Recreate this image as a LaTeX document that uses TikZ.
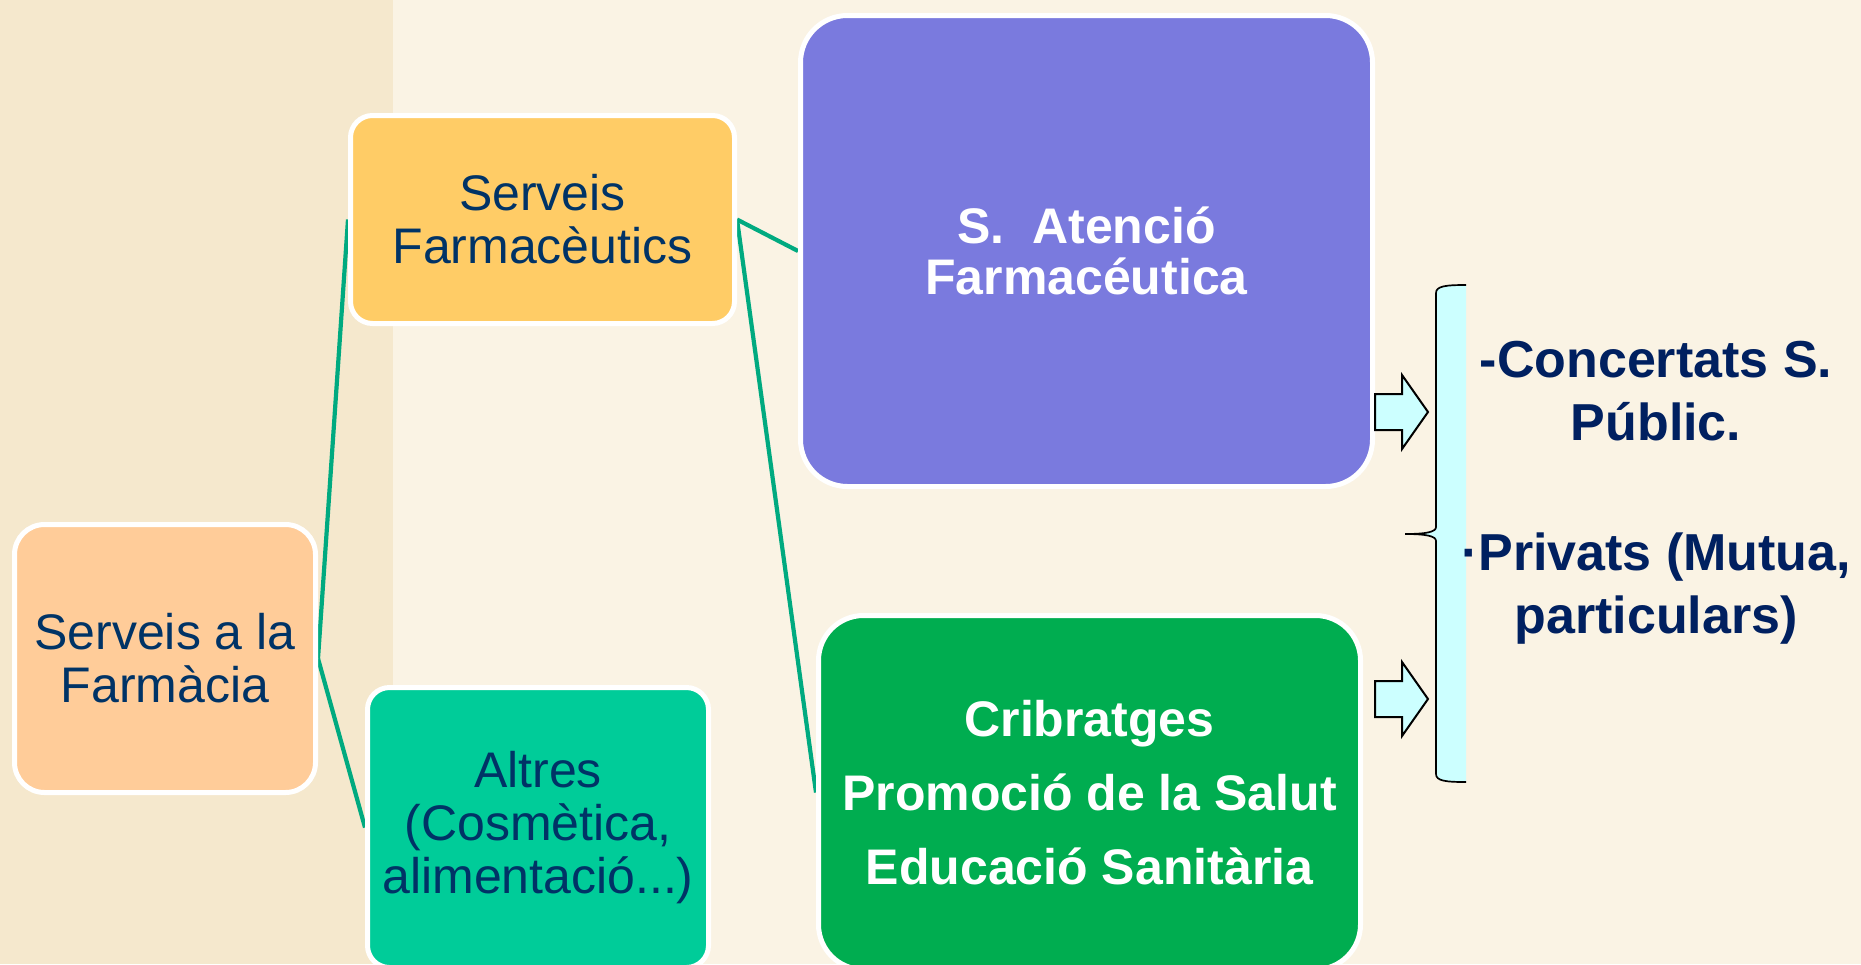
\documentclass[tikz,border=0pt]{standalone}
\usepackage{fontspec}
\setmainfont{Liberation Sans}
\usetikzlibrary{backgrounds}
\definecolor{bgleft}{RGB}{245,232,205}
\definecolor{bgright}{RGB}{250,243,228}
\definecolor{peach}{RGB}{255,204,153}
\definecolor{gold}{RGB}{255,204,102}
\definecolor{mint}{RGB}{0,204,153}
\definecolor{lilac}{RGB}{122,122,222}
\definecolor{leaf}{RGB}{0,173,80}
\definecolor{paleblue}{RGB}{204,255,255}
\definecolor{navy}{RGB}{0,51,102}
\definecolor{deepnavy}{RGB}{0,32,96}
\definecolor{teal}{RGB}{0,170,128}
\tikzset{
  box/.style={draw=white, line width=2.5pt, inner sep=0pt, align=center},
  plain/.style={font=\fontsize{25}{26.5}\selectfont, text=navy},
  boldw/.style={font=\bfseries\fontsize{25}{25.5}\selectfont, text=white},
  conn/.style={draw=teal, line width=2.1pt},
  blockarrow/.style={draw=black, line width=1pt, fill=paleblue, line join=miter},
  rtext/.style={font=\bfseries\fontsize{26}{31.5}\selectfont, text=deepnavy, align=center, inner sep=0pt}
}
\begin{document}
\begin{tikzpicture}[x=0.5pt,y=-0.5pt]
\useasboundingbox (0,0) rectangle (1861,964);
\clip (0,0) rectangle (1861,964);

% boxes
\node[box, plain, fill=peach, rounded corners=15pt, minimum width=150.5pt, minimum height=134pt] (root) at (165,658.5) {Serveis a la\\Farmàcia};
\node[box, plain, fill=gold, rounded corners=11pt, minimum width=192pt, minimum height=104pt] (serv) at (542.5,219.5) {Serveis\\Farmacèutics};
\node[box, plain, fill=mint, rounded corners=11pt, minimum width=170.5pt, minimum height=140pt] (alt) at (538,827.5) {Altres\\(Cosmètica,\\alimentació...)};
\node[box, boldw, fill=lilac, rounded corners=23.5pt, minimum width=286pt, minimum height=235.5pt] (aten) at (1086.5,251) {S.\ \ Atenció\\Farmacéutica};
\node[box, boldw, fill=leaf, rounded corners=22.5pt, minimum width=271pt, minimum height=177pt, font=\bfseries\fontsize{25}{37}\selectfont] (crib) at (1089.5,792.5) {Cribratges\\Promoció de la Salut\\Educació Sanitària};

\begin{scope}[on background layer]
\fill[bgright] (0,0) rectangle (1861,964);
\fill[bgleft] (0,0) rectangle (393,964);
\draw[conn] (root.east) -- (serv.west);
\draw[conn] (root.east) -- (alt.west);
\draw[conn] (serv.east) -- (aten.west);
\draw[conn] (serv.east) -- (crib.west);
\end{scope}

% block arrows
\draw[blockarrow] (1375,394) -- (1402,394) -- (1402,375) -- (1428,412) -- (1402,449) -- (1402,430) -- (1375,430) -- cycle;
\draw[blockarrow] (1375,681) -- (1402,681) -- (1402,662) -- (1428,699) -- (1402,736) -- (1402,717) -- (1375,717) -- cycle;

% brace
\fill[paleblue] (1466,285) .. controls (1446,285) and (1436,286) .. (1436,293) -- (1436,527) .. controls (1436,532) and (1426,534) .. (1405,534) .. controls (1426,534) and (1436,536) .. (1436,541) -- (1436,774) .. controls (1436,781) and (1446,782) .. (1466,782) -- cycle;
\draw[black, line width=0.85pt] (1466,285) .. controls (1446,285) and (1436,286) .. (1436,293) -- (1436,527) .. controls (1436,532) and (1426,534) .. (1405,534) .. controls (1426,534) and (1436,536) .. (1436,541) -- (1436,774) .. controls (1436,781) and (1446,782) .. (1466,782);

% right text
\node[rtext] (list) at (1656,493) {-Concertats S.\\Públic.\\[33.5pt]·Privats (Mutua,\\particulars)};
\end{tikzpicture}
\end{document}
